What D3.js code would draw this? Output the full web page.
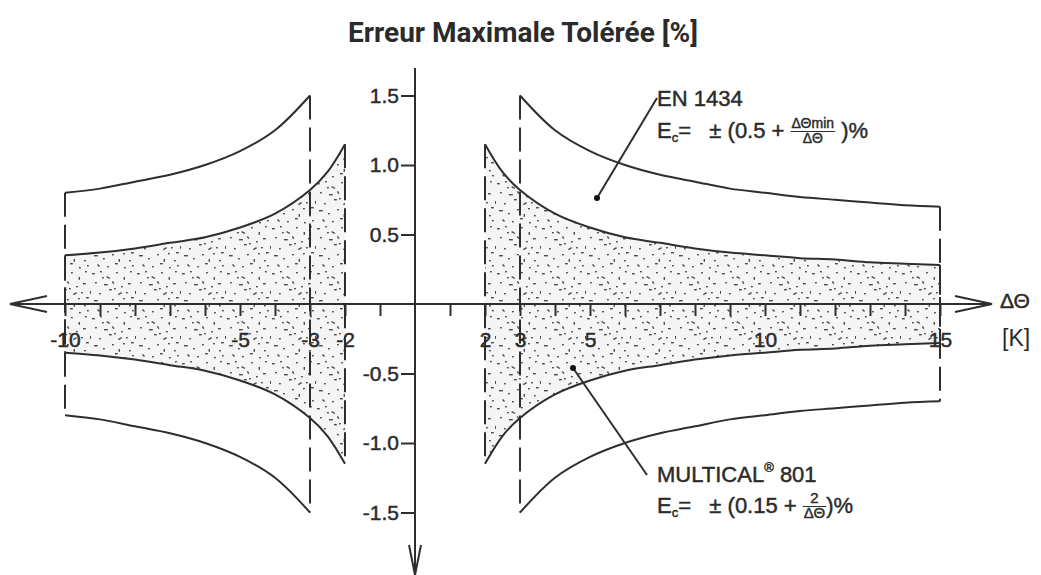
<!DOCTYPE html>
<html>
<head>
<meta charset="utf-8">
<script src="https://cdn.jsdelivr.net/npm/d3@7"></script>
<style>
  body { margin: 0; background: #fff; }
  svg text { font-family: "Liberation Sans", Arial, sans-serif; fill: #2b2b2b; }
  .title { font-family: Roboto, sans-serif; font-weight: 700; }
  .heavy { stroke: #2b2b2b; stroke-width: 0.45px; }
</style>
</head>
<body>
<div id="chart"></div>
<script>
// values, ΔΘ in K, error in %
const dtLeftMulti   = [-10, -9, -8, -7, -6, -5, -4, -3, -2.5, -2];
const multicalLeft  = [0.35, 0.37, 0.40, 0.44, 0.48, 0.55, 0.65, 0.82, 0.95, 1.15];
const dtRightMulti  = [2, 2.5, 3, 4, 5, 6, 7, 8, 9, 10, 11, 12, 13, 14, 15];
const multicalRight = [1.15, 0.95, 0.82, 0.65, 0.55, 0.48, 0.44, 0.40, 0.37, 0.35, 0.33, 0.32, 0.30, 0.29, 0.28];
const dtLeftEn      = [-10, -9, -8, -7, -6, -5, -4, -3];
const enLeft        = [0.80, 0.83, 0.88, 0.93, 1.00, 1.10, 1.25, 1.50];
const dtRightEn     = [3, 4, 5, 6, 7, 8, 9, 10, 11, 12, 13, 14, 15];
const enRight       = [1.50, 1.25, 1.10, 1.00, 0.93, 0.88, 0.83, 0.80, 0.77, 0.75, 0.73, 0.71, 0.70];

const xTicks      = [-10, -9, -8, -7, -6, -5, -4, -3, -2, -1, 1, 2, 3, 4, 5, 6, 7, 8, 9, 10, 11, 12, 13, 14, 15];
const xTickLabels = [-10, -5, -3, -2, 2, 3, 5, 10, 15];
const yTicks      = [-1.5, -1.0, -0.5, 0.5, 1.0, 1.5];

const width = 1041, height = 575;
const ink = '#2e2e2e';

const svg = d3.select('#chart').append('svg')
  .attr('width', width)
  .attr('height', height);

const x = d3.scaleLinear().domain([-10, 15]).range([65, 940]);
const y = d3.scaleLinear().domain([-1.5, 1.5]).range([512.5, 95.5]);

// stipple texture for the MULTICAL band: [x, y, length, angle]
const specks = [[2,3,2,0],[10,1,1,0],[17,6,3,30],[26,2,1,0],[35,7,2,90],[40,1,1,0],[5,12,1,0],[14,14,3,0],
  [23,11,2,60],[31,16,1,0],[38,13,2,0],[1,21,2,90],[9,23,1,0],[19,19,2,0],[28,24,3,-30],[36,22,1,0],
  [41,27,2,0],[4,30,3,0],[13,33,1,0],[22,29,1,0],[30,34,2,90],[39,35,1,0],[8,39,2,45],[17,41,1,0],
  [25,38,2,0],[34,42,1,0],[42,40,1,0],[24,18,1,0],[12,7,1,0],[33,28,1,0]];
const tile = 45;
const pat = svg.append('defs').append('pattern')
  .attr('id', 'stipple')
  .attr('patternUnits', 'userSpaceOnUse')
  .attr('width', tile).attr('height', tile);
pat.append('rect').attr('width', tile).attr('height', tile).attr('fill', '#f5f5f5');
pat.selectAll('rect.s').data(specks).enter().append('rect')
  .attr('class', 's')
  .attr('x', d => d[0]).attr('y', d => d[1])
  .attr('width', d => d[2] + 0.8).attr('height', 1.4)
  .attr('transform', d => 'rotate(' + d[3] + ',' + d[0] + ',' + d[1] + ')')
  .attr('fill', '#4a4a4a');

function band (dts, vals) {
  return dts.map((t, i) => ({ t: t, v: vals[i] }));
}
const multiLeftData  = band(dtLeftMulti, multicalLeft);
const multiRightData = band(dtRightMulti, multicalRight);
const enLeftData     = band(dtLeftEn, enLeft);
const enRightData    = band(dtRightEn, enRight);

const area = d3.area()
  .x(d => x(d.t))
  .y0(d => y(-d.v))
  .y1(d => y(d.v))
  .curve(d3.curveCatmullRom);

[multiLeftData, multiRightData].forEach(function (data) {
  svg.append('path').attr('d', area(data)).attr('fill', 'url(#stipple)');
});

const upper = d3.line().x(d => x(d.t)).y(d => y(d.v)).curve(d3.curveCatmullRom);
const lower = d3.line().x(d => x(d.t)).y(d => y(-d.v)).curve(d3.curveCatmullRom);

[multiLeftData, multiRightData, enLeftData, enRightData].forEach(function (data) {
  [upper, lower].forEach(function (gen) {
    svg.append('path')
      .attr('d', gen(data))
      .attr('fill', 'none')
      .attr('stroke', ink)
      .attr('stroke-width', 2);
  });
  // dashed limits at both ends
  [data[0], data[data.length - 1]].forEach(function (d) {
    svg.append('line')
      .attr('x1', x(d.t)).attr('x2', x(d.t))
      .attr('y1', y(d.v)).attr('y2', y(-d.v))
      .attr('stroke', ink)
      .attr('stroke-width', 2)
      .attr('stroke-dasharray', '24,8');
  });
});

// axes
const x0 = x(0), y0 = y(0);
svg.append('line').attr('x1', 10).attr('x2', 992).attr('y1', y0).attr('y2', y0)
  .attr('stroke', ink).attr('stroke-width', 2);
svg.append('line').attr('x1', x0).attr('x2', x0).attr('y1', 68).attr('y2', 575)
  .attr('stroke', ink).attr('stroke-width', 2);
svg.append('path').attr('d', 'M47,' + (y0 - 8) + 'L10,' + y0 + 'L47,' + (y0 + 8))
  .attr('fill', 'none').attr('stroke', ink).attr('stroke-width', 2);
svg.append('path').attr('d', 'M955,' + (y0 - 8) + 'L992,' + y0 + 'L955,' + (y0 + 8))
  .attr('fill', 'none').attr('stroke', ink).attr('stroke-width', 2);
svg.append('path').attr('d', 'M' + (x0 - 6) + ',545L' + x0 + ',575L' + (x0 + 6) + ',545')
  .attr('fill', 'none').attr('stroke', ink).attr('stroke-width', 2);

const xTickAxis = svg.append('g')
  .attr('transform', 'translate(0,' + y0 + ')')
  .call(d3.axisBottom(x).tickValues(xTicks).tickSize(12).tickSizeOuter(0).tickFormat(''));
xTickAxis.select('.domain').remove();
xTickAxis.selectAll('line').attr('stroke', ink).attr('stroke-width', 2);

const xLabelAxis = svg.append('g')
  .attr('transform', 'translate(0,' + y0 + ')')
  .call(d3.axisBottom(x).tickValues(xTickLabels).tickSize(0).tickPadding(28).tickFormat(d => String(d)));
xLabelAxis.select('.domain').remove();
xLabelAxis.selectAll('text').attr('font-size', 21).attr('fill', ink).attr('class', 'heavy')
  .style('font-family', '"Liberation Sans", Arial, sans-serif');

const yAxis = svg.append('g')
  .attr('transform', 'translate(' + x0 + ',0)')
  .call(d3.axisLeft(y).tickValues(yTicks).tickSize(14).tickPadding(2).tickFormat(d => d.toFixed(1)));
yAxis.select('.domain').remove();
yAxis.selectAll('line').attr('stroke', ink).attr('stroke-width', 2);
yAxis.selectAll('text').attr('font-size', 21).attr('fill', ink).attr('class', 'heavy')
  .style('font-family', '"Liberation Sans", Arial, sans-serif');

// axis unit
svg.append('text').attr('class', 'heavy').attr('x', 1000).attr('y', 308).attr('font-size', 21).text('ΔΘ');
svg.append('text').attr('x', 1002).attr('y', 346).attr('font-size', 23).text('[K]');

// title
svg.append('text').attr('class', 'title')
  .attr('x', 523).attr('y', 42)
  .attr('text-anchor', 'middle')
  .attr('font-size', 28)
  .text('Erreur Maximale Tolérée [%]');

// annotations
function leader (xa, ya, xb, yb) {
  svg.append('line').attr('x1', xa).attr('y1', ya).attr('x2', xb).attr('y2', yb)
    .attr('stroke', ink).attr('stroke-width', 2);
  svg.append('circle').attr('cx', xa).attr('cy', ya).attr('r', 3).attr('fill', '#111');
}

// lays pieces out one after another, fractions stacked
function richLine (xStart, yBase, parts) {
  let cx = xStart;
  parts.forEach(function (p) {
    if (p.frac) {
      const fs = p.size || 14;
      const a = svg.append('text').attr('class', 'heavy').attr('font-size', fs).text(p.frac[0]);
      const b = svg.append('text').attr('class', 'heavy').attr('font-size', fs).text(p.frac[1]);
      const w = Math.max(a.node().getComputedTextLength(), b.node().getComputedTextLength());
      const mid = cx + w / 2 + 1;
      a.attr('x', mid).attr('y', yBase - 10).attr('text-anchor', 'middle');
      b.attr('x', mid).attr('y', yBase + 5).attr('text-anchor', 'middle');
      svg.append('line').attr('x1', cx).attr('x2', cx + w + 2)
        .attr('y1', yBase - 6.5).attr('y2', yBase - 6.5)
        .attr('stroke', ink).attr('stroke-width', 1);
      cx += w + 2;
    } else {
      const t = svg.append('text').attr('class', 'heavy')
        .attr('x', cx).attr('y', yBase + (p.dy || 0))
        .attr('font-size', p.size || 22)
        .text(p.t);
      cx += t.node().getComputedTextLength();
    }
  });
}

leader(597, 198, 657, 98);
richLine(657, 106, [{ t: 'EN 1434' }]);
richLine(657, 138, [
  { t: 'E' }, { t: 'c', size: 13, dy: 4 }, { t: '=\u00a0\u00a0\u00a0±\u00a0(0.5\u00a0+\u00a0' },
  { frac: ['ΔΘmin', 'ΔΘ'] }, { t: '\u00a0)%' }
]);

leader(573, 368, 647, 475);
richLine(657, 482, [{ t: 'MULTICAL' }, { t: '®', size: 13, dy: -10 }, { t: '\u00a0801' }]);
richLine(657, 513, [
  { t: 'E' }, { t: 'c', size: 13, dy: 4 }, { t: '=\u00a0\u00a0\u00a0±\u00a0(0.15\u00a0+\u00a0' },
  { frac: ['2', 'ΔΘ'], size: 15 }, { t: ')%' }
]);
</script>
</body>
</html>
